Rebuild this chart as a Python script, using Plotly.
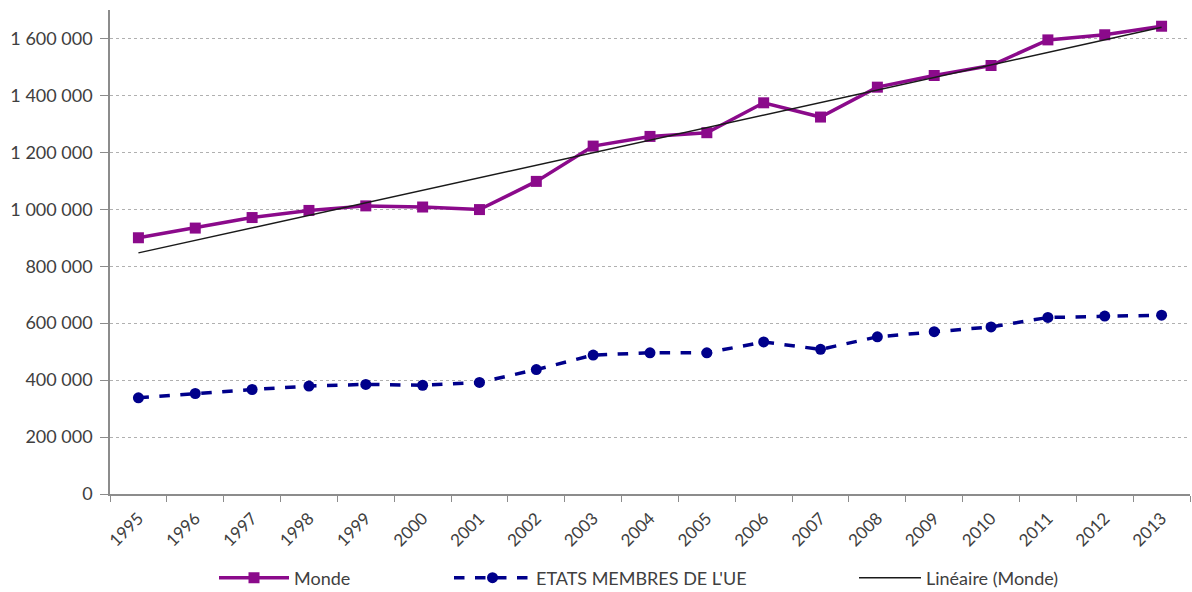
import numpy as np
import plotly.graph_objects as go

years = [str(y) for y in range(1995, 2014)]
monde = [900000, 934000, 971000, 996000, 1012000, 1008000, 999000, 1098000, 1222000,
         1256000, 1269000, 1374000, 1324000, 1429000, 1470000, 1505000, 1595000,
         1613000, 1643000]
ue = [338000, 353000, 367000, 379000, 385000, 382000, 392000, 437000, 488000,
      496000, 496000, 534000, 508000, 552000, 570000, 587000, 620000, 625000, 628000]
y_ticks = [0, 200000, 400000, 600000, 800000, 1000000, 1200000, 1400000, 1600000]
y_labels = ["0", "200 000", "400 000", "600 000", "800 000", "1 000 000",
            "1 200 000", "1 400 000", "1 600 000"]

# linear trend of the world series
idx = np.arange(len(monde))
slope, intercept = np.polyfit(idx, monde, 1)
trend = slope * idx + intercept

FONT = "Lato"
TXT = "#404040"
AX = "#8c8c8c"

fig = go.Figure()
fig.add_trace(go.Scatter(
    x=years, y=monde, name="Monde", mode="lines+markers",
    line=dict(color="#8B0A8B", width=3.5),
    marker=dict(symbol="square", size=11, color="#8B0A8B"),
    legend="legend"))
fig.add_trace(go.Scatter(
    x=years, y=ue, name="ETATS MEMBRES DE L'UE", mode="lines+markers",
    line=dict(color="#00008B", width=3.5, dash="dash"),
    marker=dict(symbol="circle", size=11, color="#00008B"),
    legend="legend2"))
fig.add_trace(go.Scatter(
    x=years, y=trend, name="Linéaire (Monde)", mode="lines",
    line=dict(color="#1a1a1a", width=1.5),
    legend="legend3"))


def legend_box(x_px, item_w):
    return dict(orientation="h", yref="container", yanchor="middle", y=14 / 592,
                xref="container", xanchor="left", x=x_px / 1192, itemwidth=item_w,
                font=dict(family=FONT, size=18, color=TXT),
                bgcolor="rgba(0,0,0,0)")


fig.update_layout(
    width=1192, height=592,
    margin=dict(l=110, r=2, t=10, b=98),
    paper_bgcolor="white", plot_bgcolor="white",
    font=dict(family=FONT, color=TXT),
    showlegend=True,
    legend=legend_box(214, 70),
    legend2=legend_box(449, 77),
    legend3=legend_box(854, 62),
    xaxis=dict(
        type="category", range=[-0.5, 18.5], tickson="boundaries",
        showline=True, linecolor=AX, linewidth=1.5,
        ticks="outside", ticklen=6, tickcolor=AX,
        tickangle=-45, showgrid=False, ticklabelstandoff=6,
        tickfont=dict(family=FONT, size=17, color=TXT)),
    yaxis=dict(
        range=[0, 1700000], tickvals=y_ticks, ticktext=y_labels,
        showline=True, linecolor=AX, linewidth=1.5,
        ticks="outside", ticklen=8, tickcolor=AX,
        showgrid=True, gridcolor="#b0b0b0", griddash="dot", gridwidth=1,
        zeroline=False, ticklabelstandoff=4,
        tickfont=dict(family=FONT, size=18, color=TXT)),
)

fig.write_html("out.html")
